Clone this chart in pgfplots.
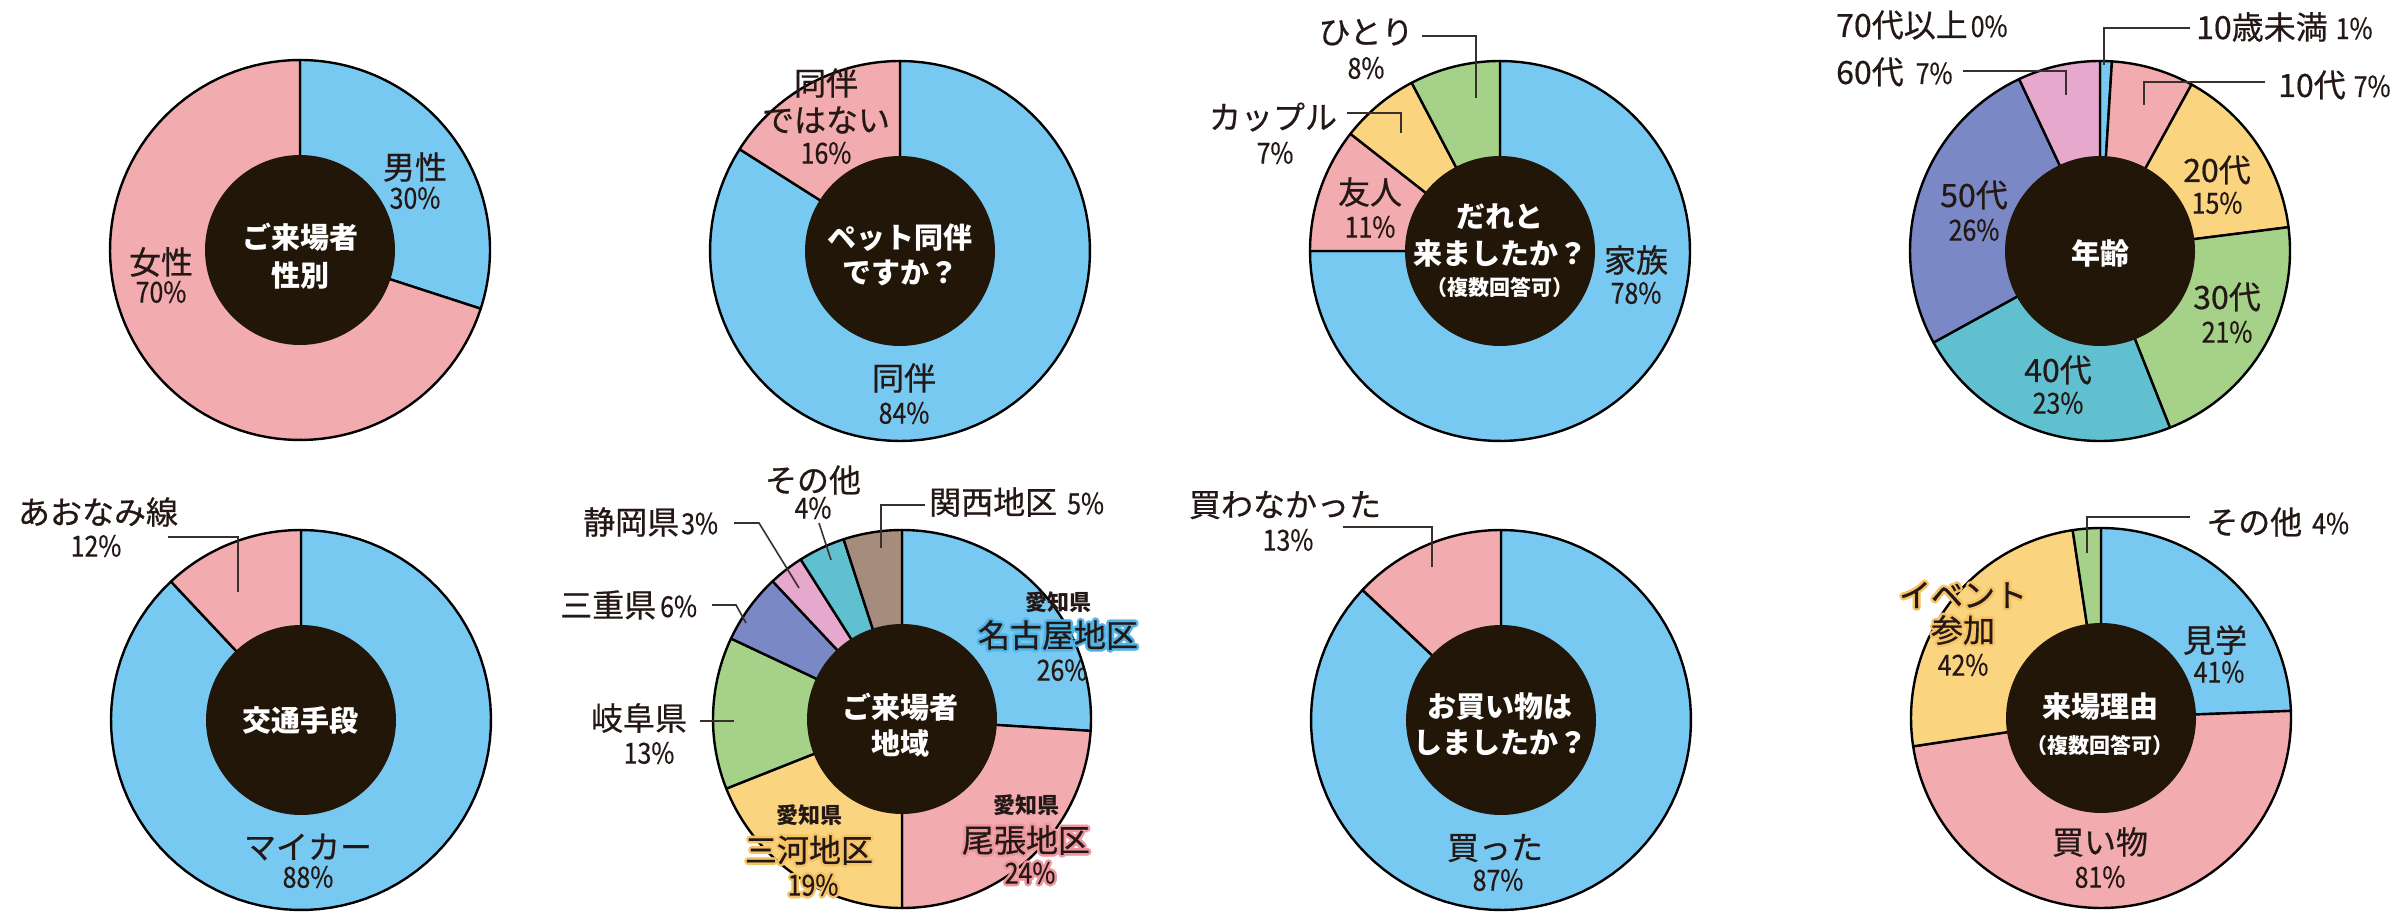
\documentclass[border=0pt]{standalone}
\usepackage{pgfplots}
\pgfplotsset{compat=1.18}
\usepackage{fontspec}
\setmainfont{Noto Sans CJK JP}
\newfontfamily\labf[FakeBold=0.6]{Noto Sans CJK JP}
\newfontfamily\numf[FakeStretch=0.86,FakeBold=0.5]{Noto Sans CJK JP}

\definecolor{cblue}{RGB}{120,201,241}
\definecolor{cpink}{RGB}{242,171,174}
\definecolor{cyel}{RGB}{251,212,128}
\definecolor{cgreen}{RGB}{165,209,137}
\definecolor{cteal}{RGB}{97,192,207}
\definecolor{cpurp}{RGB}{122,136,197}
\definecolor{clav}{RGB}{230,168,204}
\definecolor{cbrown}{RGB}{166,140,124}
\definecolor{cdark}{RGB}{33,22,8}
\definecolor{tc}{RGB}{35,24,21}
\definecolor{hblue}{RGB}{80,180,230}
\definecolor{hpink}{RGB}{238,150,158}
\definecolor{hyel}{RGB}{245,195,100}

\newcommand\Lf{\labf\fontsize{32}{34}\selectfont}
\newcommand\Pf{\numf\fontsize{29}{31}\selectfont}

\newlength\hl \setlength\hl{2.6pt}
\newcommand\halo[2]{{\leavevmode\def\hc{\color{#1}#2}%
  \rlap{\hspace*{\hl}\hc}\rlap{\hspace*{-\hl}\hc}%
  \rlap{\raisebox{\hl}{\hc}}\rlap{\raisebox{-\hl}{\hc}}%
  \rlap{\hspace*{0.7\hl}\raisebox{0.7\hl}{\hc}}\rlap{\hspace*{-0.7\hl}\raisebox{0.7\hl}{\hc}}%
  \rlap{\hspace*{0.7\hl}\raisebox{-0.7\hl}{\hc}}\rlap{\hspace*{-0.7\hl}\raisebox{-0.7\hl}{\hc}}%
  #2}}

% pie: cx, cy, r, total, list value/colour  (clockwise from 12 o'clock, image coords)
\newcommand\pie[5]{%
  \gdef\cum{0}%
  \foreach \pv/\pc in {#5}{%
    \pgfmathsetmacro\ps{\cum/#4}%
    \pgfmathsetmacro\pe{(\cum+\pv)/#4}%
    \edef\temp{\noexpand\addplot[draw=black, line width=2.4pt, line join=round, fill=\pc, domain=\ps:\pe, samples=90, variable=\noexpand\t] ({#1+#3*sin(360*\noexpand\t)},{#2-#3*cos(360*\noexpand\t)}) -- (axis cs:#1,#2) -- cycle;}%
    \temp
    \pgfmathsetmacro\nc{\cum+\pv}%
    \xdef\cum{\nc}%
  }%
}
\newcommand\hole[2]{\addplot[draw=none, fill=cdark, domain=0:1, samples=120, variable=\t] ({#1+95*sin(360*\t)},{#2-95*cos(360*\t)}) -- cycle;}

\tikzset{
  lab/.style={font=\Lf, text=tc, inner sep=0pt},
  pct/.style={font=\Pf, text=tc, inner sep=0pt},
  ctr/.style={font=\bfseries\fontsize{29}{31}\selectfont, text=white, inner sep=0pt},
  ctrs/.style={font=\bfseries\fontsize{21}{23}\selectfont, text=white, inner sep=0pt},
  aic/.style={font=\bfseries\fontsize{22}{24}\selectfont, text=tc, inner sep=0pt},
  leader/.style={draw=tc!90, line width=1.6pt},
}

\begin{document}
\begin{tikzpicture}
\useasboundingbox (0,0) rectangle (2400pt,920pt);
\begin{axis}[x=1pt, y=1pt, xmin=0, xmax=2400, ymin=0, ymax=920, y dir=reverse,
  hide axis, clip=false, anchor=south west, at={(0,0)}]

% ---------- data ----------
\pie{300}{250}{190}{100}{30/cblue,70/cpink}
\pie{900}{251}{190}{100}{84/cblue,16/cpink}
\pie{1500}{251}{190}{104}{78/cblue,11/cpink,7/cyel,8/cgreen}
\pie{2100}{251}{190}{100}{1/cblue,7/cpink,15/cyel,21/cgreen,23/cteal,26/cpurp,7/clav}
\pie{301}{720}{190}{100}{88/cblue,12/cpink}
\pie{902}{719}{189}{100}{26/cblue,24/cpink,19/cyel,13/cgreen,6/cpurp,3/clav,4/cteal,5/cbrown}
\pie{1501}{720}{190}{100}{87/cblue,13/cpink}
\pie{2101}{718}{190}{168}{41/cblue,81/cpink,42/cyel,4/cgreen}

\hole{300}{250}
\hole{900}{251}
\hole{1500}{251}
\hole{2100}{251}
\hole{301}{720}
\hole{902}{719}
\hole{1501}{720}
\hole{2101}{718}

% ---------- pie 1 ----------
\node[lab] at (axis cs:415,167) {男性};
\node[pct] at (axis cs:415,198) {30\%};
\node[lab] at (axis cs:161,262) {女性};
\node[pct] at (axis cs:161,292) {70\%};
\node[ctr] at (axis cs:300,237) {ご来場者};
\node[ctr] at (axis cs:300,275) {性別};

% ---------- pie 2 ----------
\node[lab] at (axis cs:826,83) {同伴};
\node[lab] at (axis cs:826,120) {ではない};
\node[pct] at (axis cs:826,153) {16\%};
\node[lab] at (axis cs:904,378) {同伴};
\node[pct] at (axis cs:904,413) {84\%};
\node[ctr] at (axis cs:900,238) {ペット同伴};
\node[ctr] at (axis cs:900,273) {ですか？};

% ---------- pie 3 ----------
\draw[leader] (axis cs:1422,36) -- (axis cs:1476,36) -- (axis cs:1476,98);
\draw[leader] (axis cs:1347,113) -- (axis cs:1401,113) -- (axis cs:1401,133);
\node[lab] at (axis cs:1366,32) {ひとり};
\node[pct] at (axis cs:1366,68) {8\%};
\node[lab] at (axis cs:1273,117) {カップル};
\node[pct] at (axis cs:1275,153) {7\%};
\node[lab] at (axis cs:1370,192) {友人};
\node[pct] at (axis cs:1370,227) {11\%};
\node[lab] at (axis cs:1636,260) {家族};
\node[pct] at (axis cs:1636,293) {78\%};
\node[ctr] at (axis cs:1500,217) {だれと};
\node[ctr] at (axis cs:1500,253) {来ましたか？};
\node[ctrs] at (axis cs:1500,287) {（複数回答可）};

% ---------- pie 4 ----------
\draw[leader] (axis cs:1963,71) -- (axis cs:2066,71) -- (axis cs:2066,95);
\draw[leader] (axis cs:2190,28) -- (axis cs:2104,28) -- (axis cs:2104,65);
\draw[leader] (axis cs:2265,82) -- (axis cs:2144,82) -- (axis cs:2144,105);
\node[lab, anchor=west] at (axis cs:1836,25) {70代以上\hspace{3pt}{\Pf 0\%}};
\node[lab, anchor=west] at (axis cs:1836,72) {60代\hspace{12pt}{\Pf 7\%}};
\node[lab, anchor=west] at (axis cs:2196,27) {10歳未満\hspace{8pt}{\Pf 1\%}};
\node[lab, anchor=west] at (axis cs:2278,85) {10代\hspace{8pt}{\Pf 7\%}};
\node[lab] at (axis cs:2217,170) {20代};
\node[pct] at (axis cs:2217,203) {15\%};
\node[lab] at (axis cs:2227,297) {30代};
\node[pct] at (axis cs:2227,332) {21\%};
\node[lab] at (axis cs:2058,370) {40代};
\node[pct] at (axis cs:2058,403) {23\%};
\node[lab] at (axis cs:1974,195) {50代};
\node[pct] at (axis cs:1974,230) {26\%};
\node[ctr] at (axis cs:2100,253) {年齢};

% ---------- pie 5 ----------
\draw[leader] (axis cs:168,537) -- (axis cs:238,537) -- (axis cs:238,592);
\node[lab] at (axis cs:98,512) {あおなみ線};
\node[pct] at (axis cs:96,546) {12\%};
\node[lab] at (axis cs:308,847) {マイカー};
\node[pct] at (axis cs:308,877) {88\%};
\node[ctr] at (axis cs:300,720) {交通手段};

% ---------- pie 6 ----------
\draw[leader] (axis cs:925,505) -- (axis cs:881,505) -- (axis cs:881,548);
\draw[leader] (axis cs:819,523) -- (axis cs:831,560);
\draw[leader] (axis cs:734,523) -- (axis cs:759,523) -- (axis cs:799,588);
\draw[leader] (axis cs:712,605) -- (axis cs:736,605) -- (axis cs:746,623);
\draw[leader] (axis cs:700,721) -- (axis cs:734,721);
\node[lab, anchor=west] at (axis cs:929,502) {関西地区\hspace{10pt}{\Pf 5\%}};
\node[lab] at (axis cs:813,480) {その他};
\node[pct] at (axis cs:813,508) {4\%};
\node[lab, anchor=west] at (axis cs:583,522) {静岡県\hspace{2pt}{\Pf 3\%}};
\node[lab, anchor=west] at (axis cs:560,605) {三重県\hspace{4pt}{\Pf 6\%}};
\node[lab] at (axis cs:639,718) {岐阜県};
\node[pct] at (axis cs:649,753) {13\%};
\node[aic] at (axis cs:1058,602) {愛知県};
\node[lab] at (axis cs:1058,635) {\halo{hblue}{名古屋地区}};
\node[pct] at (axis cs:1062,670) {26\%};
\node[aic] at (axis cs:1026,805) {愛知県};
\node[lab] at (axis cs:1026,840) {\halo{hpink}{尾張地区}};
\node[pct] at (axis cs:1030,873) {\halo{hpink}{24\%}};
\node[aic] at (axis cs:809,815) {愛知県};
\node[lab] at (axis cs:809,850) {\halo{hyel}{三河地区}};
\node[pct] at (axis cs:813,885) {\halo{hyel}{19\%}};
\node[ctr] at (axis cs:900,707) {ご来場者};
\node[ctr] at (axis cs:900,743) {地域};

% ---------- pie 7 ----------
\draw[leader] (axis cs:1343,527) -- (axis cs:1432,527) -- (axis cs:1432,567);
\node[lab] at (axis cs:1285,505) {買わなかった};
\node[pct] at (axis cs:1288,540) {13\%};
\node[lab] at (axis cs:1495,848) {買った};
\node[pct] at (axis cs:1498,880) {87\%};
\node[ctr] at (axis cs:1500,707) {お買い物は};
\node[ctr] at (axis cs:1500,743) {しましたか？};

% ---------- pie 8 ----------
\draw[leader] (axis cs:2190,517) -- (axis cs:2087,517) -- (axis cs:2087,553);
\node[lab, anchor=west] at (axis cs:2206,522) {その他\hspace{10pt}{\Pf 4\%}};
\node[lab] at (axis cs:2215,640) {見学};
\node[pct] at (axis cs:2219,672) {41\%};
\node[lab] at (axis cs:1963,595) {\halo{hyel}{イベント}};
\node[lab] at (axis cs:1963,630) {\halo{hyel}{参加}};
\node[pct] at (axis cs:1963,665) {42\%};
\node[lab] at (axis cs:2100,842) {買い物};
\node[pct] at (axis cs:2100,877) {81\%};
\node[ctr] at (axis cs:2100,707) {来場理由};
\node[ctrs] at (axis cs:2100,745) {（複数回答可）};
\end{axis}
\end{tikzpicture}
\end{document}
